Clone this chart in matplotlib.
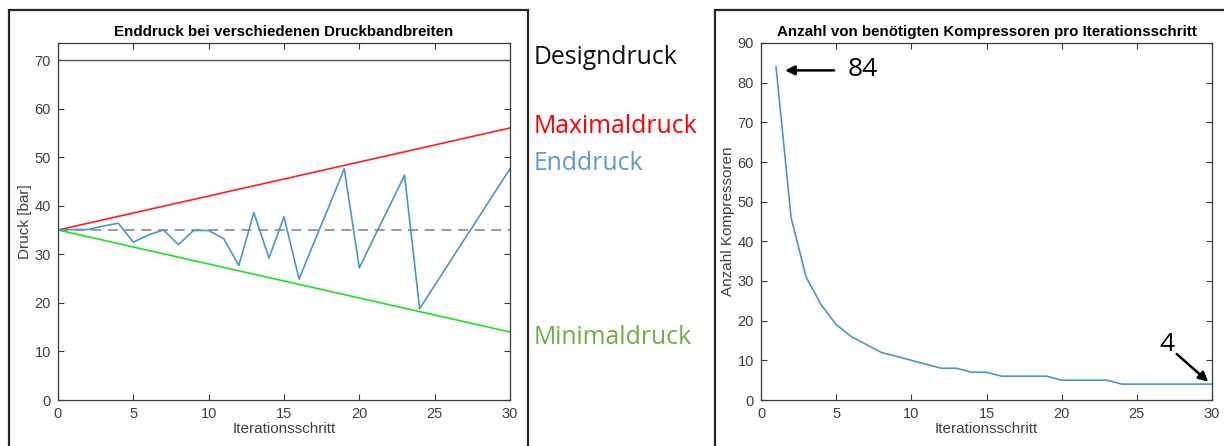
import matplotlib
matplotlib.use("Agg")
import matplotlib.pyplot as plt
from matplotlib.patches import Rectangle
import numpy as np

# ---- data ----
steps = list(range(0, 31))
end_pressure = [35.0, 35.1, 35.1, 35.8, 36.4, 32.5, 34.0, 35.0, 32.0, 34.9, 34.9,
                33.2, 27.7, 38.6, 29.2, 37.7, 24.9, 32.5, 40.0, 47.6, 27.2,
                33.6, 39.9, 46.3, 18.8, 23.6, 28.4, 33.2, 38.0, 42.8, 47.6]
max_pressure_ends = [35.0, 56.0]
min_pressure_ends = [35.0, 14.0]
band_steps = [0, 30]
design_pressure = 70.0
start_pressure = 35.0

comp_steps = list(range(1, 31))
compressors = [84, 46, 31, 24, 19, 16, 14, 12, 11, 10, 9, 8, 8, 7, 7,
               6, 6, 6, 6, 5, 5, 5, 5, 4, 4, 4, 4, 4, 4, 4]

x_ticks = [0, 5, 10, 15, 20, 25, 30]
left_yticks = [0, 10, 20, 30, 40, 50, 60, 70]
right_yticks = [0, 10, 20, 30, 40, 50, 60, 70, 80, 90]

side_labels = ["Designdruck", "Maximaldruck", "Enddruck", "Minimaldruck"]

# ---- style ----
W, H = 1224, 446
plt.rcParams["font.family"] = ["Liberation Sans", "DejaVu Sans"]
AX_COL = "#3a3a3a"
LINE_BLUE = "#4a95d2"

fig = plt.figure(figsize=(W / 100, H / 100), dpi=100)


def px_box(x0, y0, x1, y1):
    return [x0 / W, 1 - y1 / H, (x1 - x0) / W, (y1 - y0) / H]


# outer frames of both panels
for (x0, y0, x1, y1) in [(8.5, 10, 528, 470), (715, 10, 1260, 470)]:
    fig.add_artist(Rectangle((x0 / W, 1 - y1 / H), (x1 - x0) / W, (y1 - y0) / H,
                             transform=fig.transFigure, fill=False,
                             edgecolor="#262626", linewidth=1.6, clip_on=False))


def style_axes(ax):
    for s in ax.spines.values():
        s.set_color(AX_COL)
        s.set_linewidth(0.9)
    ax.tick_params(direction="in", top=True, right=True, length=4, width=0.8,
                   colors=AX_COL, labelsize=10.5, labelcolor="#404040", pad=5)
    ax.set_xticks(x_ticks)


# ---- left panel ----
ax1 = fig.add_axes(px_box(58, 43, 510, 400))
style_axes(ax1)
ax1.set_xlim(0, 30)
ax1.set_ylim(0, 73.5)
ax1.set_yticks(left_yticks)
ax1.axhline(design_pressure, color="#555555", linewidth=1.0)
ax1.axhline(start_pressure, color="#8a8a8a", linewidth=1.2, dashes=(6, 4))
ax1.plot(band_steps, max_pressure_ends, color="#ff2020", linewidth=1.2)
ax1.plot(band_steps, min_pressure_ends, color="#20e020", linewidth=1.2)
ax1.plot(steps, end_pressure, color=LINE_BLUE, linewidth=1.2)
ax1.set_title("Enddruck bei verschiedenen Druckbandbreiten", fontsize=10.9,
              fontweight="bold", pad=5)
ax1.set_xlabel("Iterationsschritt", fontsize=11, color="#404040", labelpad=1)
ax1.set_ylabel("Druck [bar]", fontsize=11, color="#404040", labelpad=2)

# side labels between the panels
label_font = ["Open Sans", "DejaVu Sans"]
label_specs = [(side_labels[0], "#111111", 64.3),
               (side_labels[1], "#ff0000", 132.7),
               (side_labels[2], "#5b9bd5", 169.7),
               (side_labels[3], "#70ad47", 343.8)]
for txt, col, base in label_specs:
    fig.text(533.5 / W, 1 - base / H, txt, color=col, fontsize=17.8,
             family=label_font, ha="left", va="baseline")

# ---- right panel ----
ax2 = fig.add_axes(px_box(761, 43, 1212, 400))
style_axes(ax2)
ax2.set_xlim(0, 30)
ax2.set_ylim(0, 90)
ax2.set_yticks(right_yticks)
ax2.plot(comp_steps, compressors, color=LINE_BLUE, linewidth=1.2)
ax2.set_title("Anzahl von benötigten Kompressoren pro Iterationsschritt",
              fontsize=10.9, fontweight="bold", pad=5)
ax2.set_xlabel("Iterationsschritt", fontsize=11, color="#404040", labelpad=1)
ax2.set_ylabel("Anzahl Kompressoren", fontsize=11, color="#404040", labelpad=2)

arrow = dict(arrowstyle="-|>", color="black", lw=1.8, mutation_scale=14,
             shrinkA=0, shrinkB=0)
first, last = compressors[0], compressors[-1]
ax2.annotate("", xy=(1.6, 83.1), xytext=(4.86, 83.1), arrowprops=arrow,
             annotation_clip=False)
ax2.text(5.75, 83.3, str(first), fontsize=19, family=label_font,
         ha="left", va="center")
ax2.annotate("", xy=(29.75, 4.6), xytext=(27.65, 11.6), arrowprops=arrow,
             annotation_clip=False)
ax2.text(26.5, 14.0, str(last), fontsize=19, family=label_font,
         ha="left", va="center")

fig.savefig("out.png", dpi=100)
